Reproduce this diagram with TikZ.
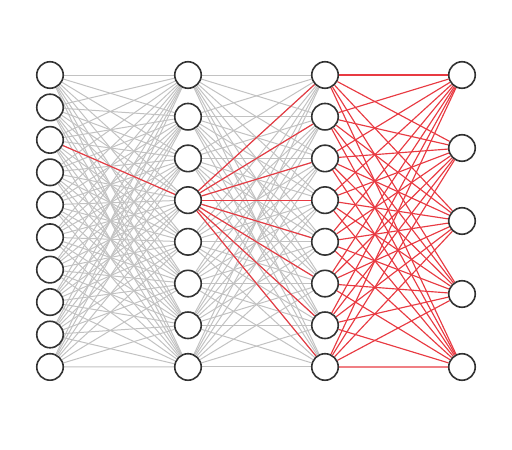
\documentclass[tikz,border=0pt]{standalone}
\usepackage{tikz}
\usetikzlibrary{backgrounds}
\definecolor{hot}{RGB}{232,58,66}
\begin{document}
\begin{tikzpicture}
[x=1pt,y=1pt,
neuron/.style={circle,draw=black!80,fill=white,line width=1.6pt,inner sep=0pt,minimum size=26.5pt},
faint/.style={draw=black!24,line width=1pt},
fired/.style={draw=hot,line width=1.15pt}]
\useasboundingbox (0,0) rectangle (512,-450);

\foreach \i in {1,...,10} \node[neuron] (1\i) at (50,{-75-(\i-1)*32.44}) {};
\foreach \i in {1,...,8} \node[neuron] (2\i) at (188,{-75-(\i-1)*41.71}) {};
\foreach \i in {1,...,8} \node[neuron] (3\i) at (325,{-75-(\i-1)*41.71}) {};
\foreach \i in {1,...,5} \node[neuron] (4\i) at (462,{-75-(\i-1)*73}) {};

\begin{scope}[on background layer]
\foreach \i in {1,...,10} \foreach \j in {1,...,8} \draw [faint] (1\i) -- (2\j);
\foreach \i in {1,...,8} \foreach \j in {1,...,8} \draw [faint] (2\i) -- (3\j);

\draw [fired] (13) -- (24);
\foreach \j in {1,...,8} \draw [fired] (24) -- (3\j);
\foreach \i in {1,...,8} \foreach \j in {1,...,5} \draw [fired] (3\i) -- (4\j);
\end{scope}
\end{tikzpicture}
\end{document}
